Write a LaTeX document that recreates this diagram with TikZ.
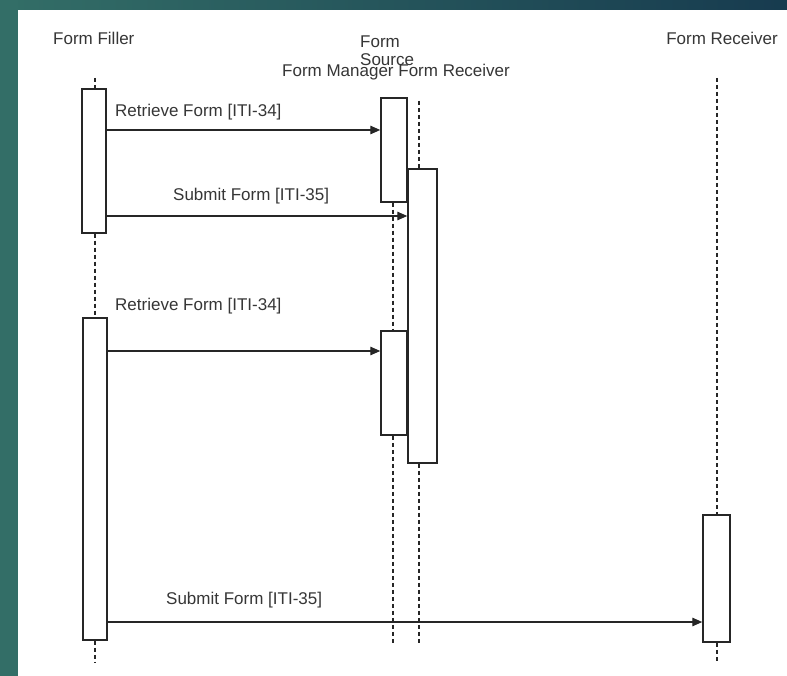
\documentclass[tikz,border=0pt]{standalone}
\usepackage{fontspec}
\setmainfont{Liberation Sans}
\usepackage{tikz}
\usetikzlibrary{
  arrows.meta,
  positioning
}
\definecolor{ink}{HTML}{262626}
\definecolor{textgrey}{HTML}{363636}
\definecolor{tealleft}{HTML}{336E67}
\definecolor{tealright}{HTML}{173B4F}
\tikzset{
  lifehead/.style={
    inner sep=0pt,
    text=textgrey,
    font=\fontsize{17}{19}\selectfont,
    align=left
  },
  actbox/.style={
    draw=ink,
    fill=white,
    line width=1.5pt,
    minimum width=24pt,
    inner sep=0pt
  },
  lifeline/.style={
    draw=ink,
    line width=1.1pt,
    dash pattern=on 4pt off 3pt
  },
  msg/.style={
    -{Triangle[length=10pt,width=8.5pt]},
    draw=ink,
    line width=1.4pt
  },
  msglabel/.style={
    lifehead,
    anchor=west
  }
}
\begin{document}
\begin{tikzpicture}[x=1pt,y=-1pt]
    \useasboundingbox (0,0) rectangle (787,676);
    % frame of the slide
    \fill[white] (0,0) rectangle (787,676);
    \shade[left color=tealleft, right color=tealright] (0,0) rectangle (787,10);
    \fill[tealleft] (0,0) rectangle (18,676);

    % heads
    \node[lifehead, anchor=west] (fillerhead) at (53,38) {Form Filler};
    \node[lifehead, anchor=north west] (sourcehead) at (360,36) {Form\\[-1pt]Source};
    \node[lifehead, anchor=west] (mgrhead) at (282,72) {Form Manager Form Receiver};
    \node[lifehead, anchor=east] (rcvhead) at (778,38) {Form Receiver};

    % activation boxes
    \node[actbox, minimum height=144pt] (fill1) at (94,161) {};
    \node[actbox, minimum height=322pt] (fill2) at (95,479) {};
    \node[actbox, minimum width=26pt, minimum height=104pt] (src1) at (394,150) {};
    \node[actbox, minimum width=26pt, minimum height=104pt] (src2) at (394,383) {};
    \node[actbox, minimum width=29pt, minimum height=294pt] (mgr1) at (422.5,316) {};
    \node[actbox, minimum width=27pt, minimum height=127pt] (rcv1) at (716.5,578.5) {};

    % lifeline ends
    \coordinate (filltop) at (95,78);
    \coordinate (fillend) at (95,662);
    \coordinate (srcline) at (393,0);
    \coordinate (srcend) at (393,645);
    \coordinate (mgrtop) at (419,101);
    \coordinate (mgrend) at (419,645);
    \coordinate (rcvtop) at (717,78);
    \coordinate (rcvend) at (717,663);

    \draw[lifeline] (filltop) -- (filltop |- fill1.north);
    \draw[lifeline] (filltop |- fill1.south) -- (filltop |- fill2.north);
    \draw[lifeline] (fillend |- fill2.south) -- (fillend);
    \draw[lifeline] (srcline |- src1.south) -- (srcline |- src2.north);
    \draw[lifeline] (srcend |- src2.south) -- (srcend);
    \draw[lifeline] (mgrtop) -- (mgrtop |- mgr1.north);
    \draw[lifeline] (mgrend |- mgr1.south) -- (mgrend);
    \draw[lifeline] (rcvtop) -- (rcvtop |- rcv1.north);
    \draw[lifeline] (rcvend |- rcv1.south) -- (rcvend);

    % messages
    \coordinate (m1) at (0,130);
    \coordinate (m2) at (0,216);
    \coordinate (m3) at (0,351);
    \coordinate (m4) at (0,622);
    \draw[msg] (fill1.east |- m1) -- (src1.west |- m1);
    \draw[msg] (fill1.east |- m2) -- (mgr1.west |- m2);
    \draw[msg] (fill2.east |- m3) -- (src2.west |- m3);
    \draw[msg] (fill2.east |- m4) -- (rcv1.west |- m4);

    \node[msglabel] (lab1) at (115,112) {Retrieve Form [ITI-34]};
    \node[msglabel] (lab2) at (173,196) {Submit Form [ITI-35]};
    \node[msglabel] (lab3) at (115,306) {Retrieve Form [ITI-34]};
    \node[msglabel] (lab4) at (166,600) {Submit Form [ITI-35]};
  \end{tikzpicture}
\end{document}
